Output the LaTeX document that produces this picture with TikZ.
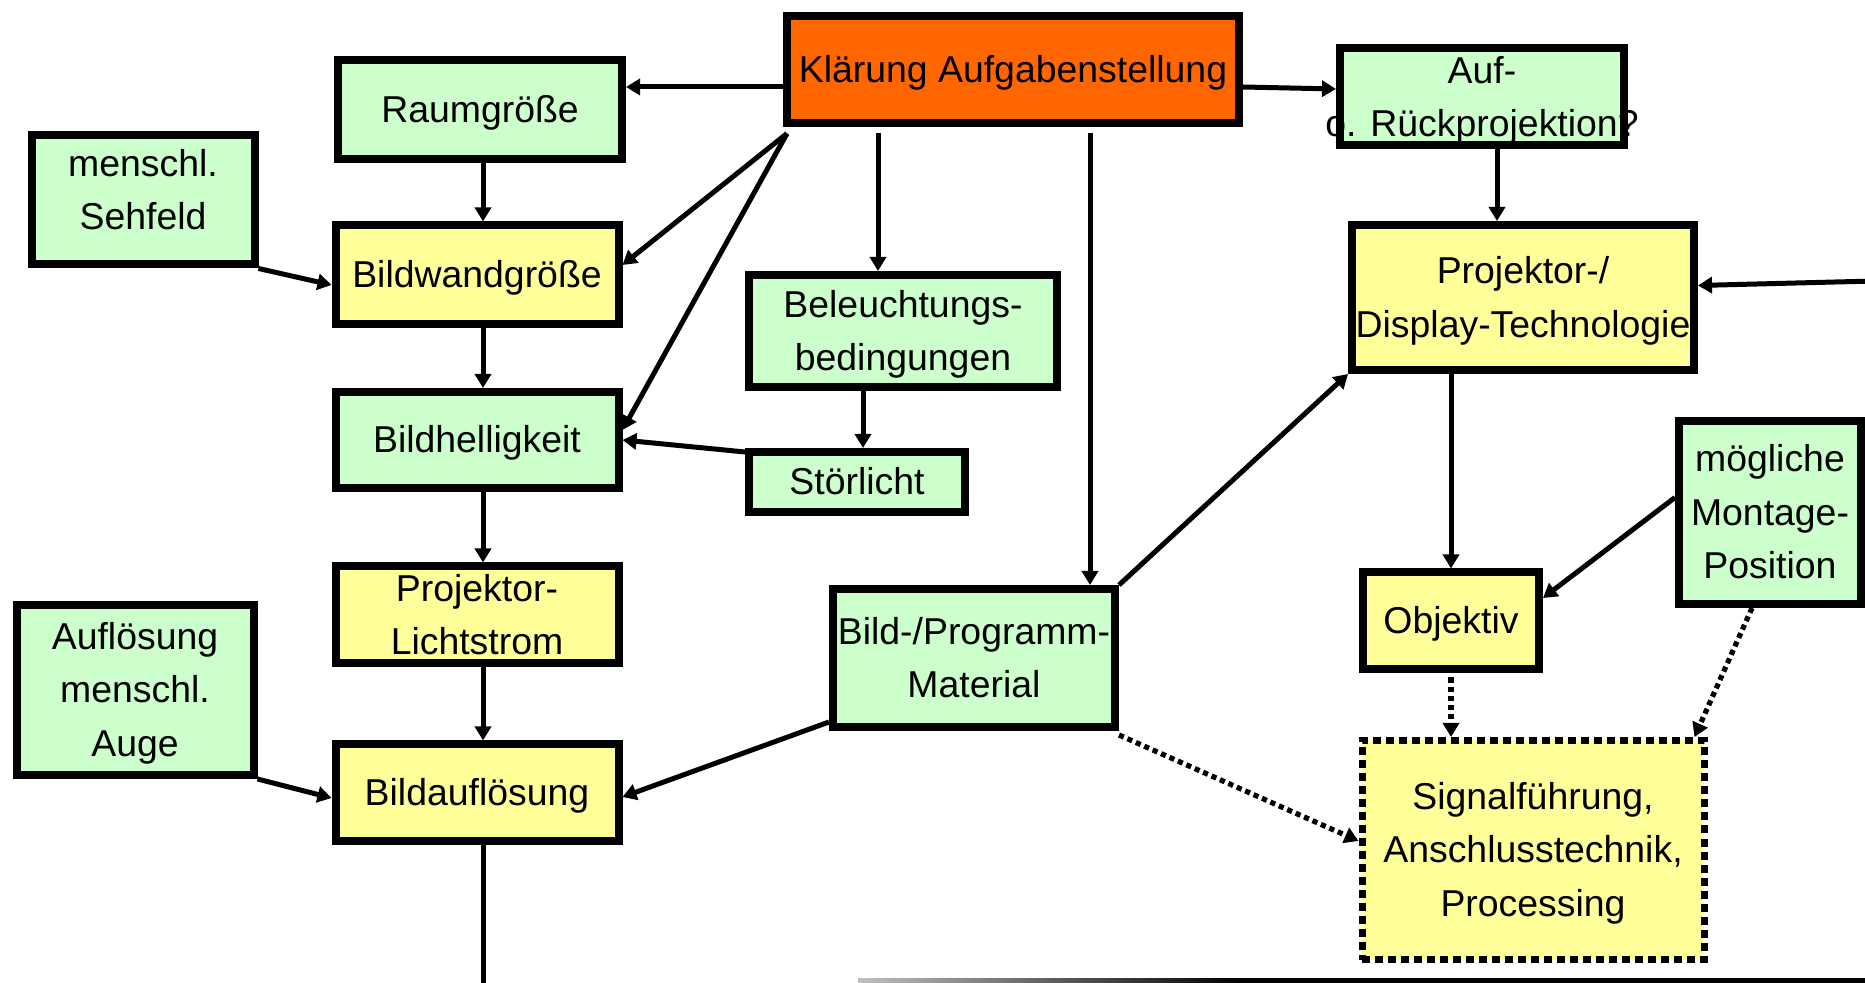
\documentclass[tikz,border=0pt]{standalone}
\usepackage{fontspec}
\setmainfont{Liberation Sans}
\usetikzlibrary{arrows.meta,calc}
\definecolor{lgreen}{HTML}{CCFFCC}
\definecolor{lyellow}{HTML}{FFFF99}
\definecolor{korange}{HTML}{FF6600}
\newcommand\ts{\rule{0pt}{16.9pt}}
\newcommand\te{\rule[-3.96pt]{0pt}{0pt}}
\begin{document}
\begin{tikzpicture}[x=0.5pt,y=-0.5pt,
  box/.style={draw=black, line width=4pt, align=center, inner sep=0pt,
    font=\fontsize{18.7pt}{26.75pt}\selectfont},
  gbox/.style={box, fill=lgreen},
  ybox/.style={box, fill=lyellow},
  arr/.style={line width=2.5pt, -{Triangle[length=7pt,width=8pt]}},
  dotarr/.style={line width=2.6pt, dash pattern=on 2.6pt off 2pt, -{Triangle[length=7pt,width=8pt]}},
]
\useasboundingbox (0,0) rectangle (1865,983);

% nodes
\node[box, fill=korange, minimum width=226pt, minimum height=53.5pt] (klar) at (1013,70) {\ts Klärung Aufgabenstellung\te};
\node[gbox, minimum width=142pt, minimum height=49.5pt] (raum) at (480,110) {\ts Raumgröße\te};
\node[gbox, minimum width=111.5pt, minimum height=64.5pt] (sehfeld) at (143,200) {\ts menschl.\\Sehfeld\rule[-14pt]{0pt}{0pt}};
\node[ybox, minimum width=141.5pt, minimum height=49.5pt] (bwand) at (477,275) {\ts Bildwandgröße\te};
\node[gbox, minimum width=141.5pt, minimum height=48pt] (bhell) at (477,440) {\ts Bildhelligkeit\te};
\node[ybox, minimum width=141.5pt, minimum height=48.5pt] (plicht) at (477,615) {\ts Projektor-\\Lichtstrom\te};
\node[ybox, minimum width=141.5pt, minimum height=48.5pt] (baufl) at (477,793) {\ts Bildauflösung\te};
\node[gbox, minimum width=118.5pt, minimum height=85pt] (auge) at (135,690) {\ts Auflösung\\menschl.\\Auge\te};
\node[gbox, minimum width=154pt, minimum height=56pt] (beleucht) at (903,331) {\ts Beleuchtungs-\\bedingungen\te};
\node[gbox, minimum width=108pt, minimum height=30pt] (stoer) at (857,482) {\ts Störlicht\te};
\node[gbox, minimum width=141pt, minimum height=69pt] (bild) at (974,658) {\ts Bild-/Programm-\\Material\te};
\node[gbox, minimum width=142pt, minimum height=48.5pt] (auf) at (1482,97) {\ts Auf-\\\makebox[0pt]{o. Rückprojektion?}\te};
\node[ybox, minimum width=171pt, minimum height=72.5pt] (ptech) at (1523,297.5) {\ts Projektor-/\\\makebox[0pt]{Display-Technologie}\te};
\node[ybox, minimum width=88pt, minimum height=48.5pt] (obj) at (1451,621) {\ts Objektiv\te};
\node[gbox, minimum width=91pt, minimum height=91.5pt] (montage) at (1770,512.5) {\ts mögliche\\Montage-\\Position\te};
\node[ybox, line width=3.5pt, dash pattern=on 4pt off 2.5pt, minimum width=171pt, minimum height=109.5pt] (signal) at (1533,850) {\ts Signalführung,\\Anschlusstechnik,\\Processing\te};

\coordinate (rin) at (1875,281);

% connectors
\draw[arr] ([yshift=-8.5pt]klar.west) coordinate (k1) -- (k1 -| raum.east);
\draw[arr] ([yshift=-8.5pt]klar.east) -- ([yshift=4pt]auf.west);
\draw[arr] ([shift={(2pt,-3pt)}]klar.south west) -- ([yshift=5pt]bwand.east);
\draw[arr] ([shift={(2pt,-3pt)}]klar.south west) -- ([yshift=5pt]bhell.east);
\draw[arr] ([yshift=15pt]stoer.west) -- (bhell.east);
\draw[arr] ([shift={(-12.5pt,-3pt)}]beleucht.north |- klar.south) -- ([xshift=-12.5pt]beleucht.north);
\draw[arr] ([shift={(58pt,-3pt)}]bild.north |- klar.south) -- ([xshift=58pt]bild.north);
\draw[arr] ([xshift=3pt]stoer.north |- beleucht.south) -- ([xshift=3pt]stoer.north);

\draw[arr] ([xshift=3pt]bwand.north |- raum.south) -- ([xshift=3pt]bwand.north);
\draw[arr] ([xshift=3pt]bhell.north |- bwand.south) -- ([xshift=3pt]bhell.north);
\draw[arr] ([xshift=3pt]plicht.north |- bhell.south) -- ([xshift=3pt]plicht.north);
\draw[arr] ([xshift=3pt]baufl.north |- plicht.south) -- ([xshift=3pt]baufl.north);
\draw[line width=2.5pt] ([xshift=3pt]baufl.south) -- ++(0,160);

\draw[arr] (sehfeld.south east) -- ([yshift=-5pt]bwand.west);
\draw[arr] (auge.south east) -- ([yshift=-2.5pt]baufl.west);
\draw[arr] ([yshift=-32pt]bild.west) -- ([yshift=-2pt]baufl.east);
\draw[arr] (bild.north east) -- (ptech.south west);
\draw[arr] ([xshift=-13pt]ptech.north |- auf.south) -- ([xshift=-13pt]ptech.north);
\draw[arr] (rin) -- ([yshift=6pt]ptech.east);
\draw[arr] (obj.north |- ptech.south) -- (obj.north);
\draw[arr] ([yshift=7.5pt]montage.west) -- ([yshift=11.5pt]obj.east);

\draw[dotarr] ([yshift=-2pt]obj.south) -- (obj.south |- signal.north);
\draw[dotarr] ([xshift=-9pt]montage.south) -- ([xshift=-6.5pt]signal.north east);
\draw[dotarr] ([yshift=-2pt]bild.south east) -- ([yshift=4.5pt]signal.west);

% bottom line
\shade[left color=black!25, right color=black] (858,978.5) rectangle (1240,983);
\fill[black] (1240,978) rectangle (1865,983);
\end{tikzpicture}
\end{document}
